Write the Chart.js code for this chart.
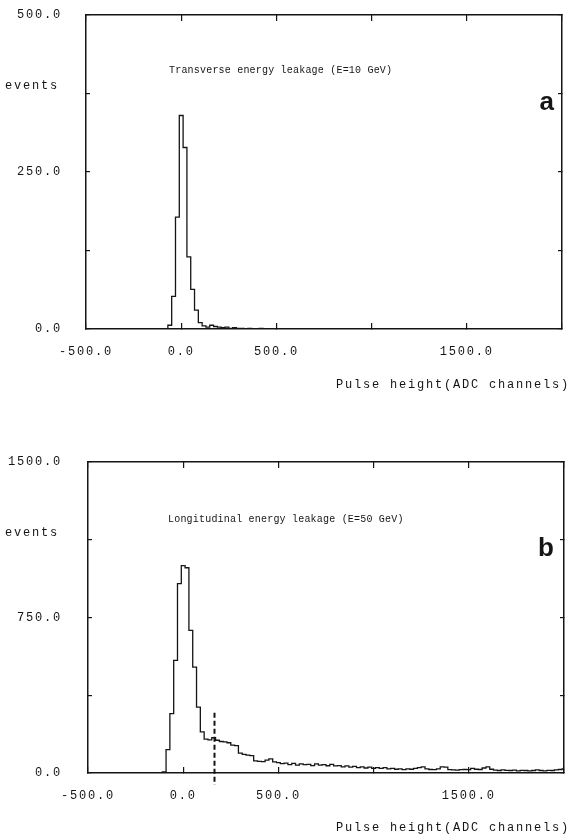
<!DOCTYPE html>
<html lang="en">
<head>
  <meta charset="UTF-8">
  <title>Energy leakage histograms</title>
  <script src="https://cdn.jsdelivr.net/npm/chart.js@4.4.0/dist/chart.umd.min.js"></script>
  <style>
    html, body { margin: 0; padding: 0; background: #fff; }
    body { width: 568px; height: 835px; position: relative; overflow: hidden; }
    .panel { position: absolute; left: 0; }
    #panel-a { top: 0; }
    #panel-b { top: 400px; }
  </style>
</head>
<body>
  <canvas id="panel-a" class="panel" width="568" height="400"></canvas>
  <canvas id="panel-b" class="panel" width="568" height="435"></canvas>

  <script>
    // Histogram binning (ADC channels)
    const binWidth = 20;
    const xMin = -500;
    const xMax = 2000;

    // Panel a: transverse leakage, counts per bin starting at aFirstEdge
    const aFirstEdge = -90;
    const aCounts = [0, 6, 52, 178, 340, 289, 115, 63, 30, 10, 5, 3, 6, 4, 3, 2, 3, 1, 2, 1, 1, 0, 1, 0, 0, 1];

    // Panel b: longitudinal leakage, counts per bin starting at bFirstEdge
    const bFirstEdge = -130;
    const bCounts = [
      0, 5, 113, 286, 543, 913, 1000, 990, 688, 511,
      318, 198, 163, 160, 170, 158, 152, 150, 146, 134,
      132, 96, 90, 86, 84, 58, 56, 55, 62, 68,
      54, 50, 45, 48, 40, 46, 38, 44, 40, 42,
      36, 44, 38, 40, 35, 42, 34, 36, 30, 34,
      28, 32, 26, 30, 24, 28, 22, 26, 22, 26,
      20, 22, 18, 20, 16, 20, 18, 22, 26, 30,
      20, 17, 16, 20, 30, 28, 16, 15, 14, 16,
      17, 16, 22, 18, 17, 24, 30, 18, 14, 12,
      15, 13, 12, 14, 10, 13, 12, 10, 12, 15,
      12, 10, 13, 12, 15, 17, 20
    ];
    // dashed cut line in panel b
    const bCutX = 160;
    const bCutTop = 290;

    // tick values and which ones carry labels
    const xLabelled = [-500, 0, 500, 1500];
    const aYLabelled = [0, 250, 500];
    const bYLabelled = [0, 750, 1500];

    const aTitle = 'Transverse energy leakage (E=10 GeV)';
    const bTitle = 'Longitudinal energy leakage (E=50 GeV)';
    const xTitle = 'Pulse height(ADC channels)';
    const yTitle = 'events';

    const INK = '#151515';
    const MONO = "'Liberation Mono', 'DejaVu Sans Mono', monospace";
    const SPACING = '1.8px';

    function histPoints(firstEdge, counts) {
      const pts = [{ x: xMin, y: 0 }];
      counts.forEach((c, i) => pts.push({ x: firstEdge + i * binWidth, y: c }));
      const end = firstEdge + counts.length * binWidth;
      pts.push({ x: end, y: 0 });
      if (end < xMax) pts.push({ x: xMax, y: 0 });
      return pts;
    }

    // texts + cut line drawn on top of the chart
    const annotPlugin = {
      id: 'annot',
      beforeDraw(chart) {
        chart.ctx.letterSpacing = SPACING;
      },
      afterDraw(chart, args, o) {
        const ctx = chart.ctx;
        ctx.save();
        ctx.fillStyle = INK;
        ctx.textBaseline = 'middle';

        ctx.letterSpacing = '0.2px';
        ctx.font = '10px ' + MONO;
        ctx.textAlign = 'left';
        ctx.fillText(o.title, o.titleX, o.titleY);

        ctx.letterSpacing = SPACING;
        ctx.font = '12px ' + MONO;
        ctx.fillText(yTitle, o.eventsX, o.eventsY);
        ctx.textAlign = 'right';
        ctx.fillText(xTitle, 570, o.axisTitleY);

        ctx.letterSpacing = '0px';
        ctx.font = 'bold 26px "Liberation Sans", Arial, sans-serif';
        ctx.fillText(o.letter, o.letterX, o.letterY);

        if (o.cut) {
          const xs = chart.scales.x, ys = chart.scales.y;
          const px = Math.round(xs.getPixelForValue(o.cut.x)) + 0.5;
          ctx.strokeStyle = INK;
          ctx.lineWidth = 2;
          ctx.setLineDash([5, 3]);
          ctx.beginPath();
          ctx.moveTo(px, ys.getPixelForValue(o.cut.top));
          ctx.lineTo(px, chart.chartArea.bottom + 12);
          ctx.stroke();
        }
        ctx.restore();
        ctx.letterSpacing = '0px';
      }
    };

    // fixed axis box sizes, no extra label padding in the layout
    function fixBox(s, w, h) {
      if (w !== null) s.width = w;
      if (h !== null) s.height = h;
      s.paddingTop = s.paddingBottom = s.paddingLeft = s.paddingRight = 0;
    }

    function makeChart(canvasId, cfg) {
      const grid = (len) => ({ drawOnChartArea: false, drawTicks: true, tickLength: len, color: INK, lineWidth: 1.2 });
      const border = { display: true, color: INK, width: 1.5 };
      const tickFont = { family: MONO, size: 12 };

      return new Chart(document.getElementById(canvasId), {
        type: 'line',
        data: {
          datasets: [{
            data: histPoints(cfg.firstEdge, cfg.counts),
            stepped: true,
            borderColor: INK,
            borderWidth: 1.3,
            pointRadius: 0,
            fill: false
          }]
        },
        options: {
          responsive: false,
          animation: false,
          devicePixelRatio: 1,
          layout: { padding: { top: cfg.top, right: cfg.right, left: 0, bottom: 0 } },
          plugins: {
            legend: { display: false },
            tooltip: { enabled: false },
            annot: cfg.annot
          },
          scales: {
            x: {
              type: 'linear', position: 'bottom', min: xMin, max: xMax,
              grid: grid(-6), border: border,
              ticks: {
                stepSize: 500, padding: 21.8, font: tickFont, color: INK, maxRotation: 0, autoSkip: false,
                callback: v => xLabelled.includes(v) ? v.toFixed(1) : ''
              },
              afterFit: s => fixBox(s, null, cfg.xAxisH)
            },
            x2: {
              type: 'linear', axis: 'x', position: 'top', min: xMin, max: xMax,
              grid: grid(-6), border: border,
              ticks: { stepSize: 500, display: false },
              afterFit: s => fixBox(s, null, 0)
            },
            y: {
              type: 'linear', position: 'left', min: 0, max: cfg.yMax,
              grid: grid(-4), border: border,
              ticks: {
                stepSize: cfg.yStep, padding: cfg.yPad, font: tickFont, color: INK,
                callback: v => cfg.yLabelled.includes(v) ? v.toFixed(1) : ''
              },
              afterFit: s => fixBox(s, cfg.left, null)
            },
            y2: {
              type: 'linear', axis: 'y', position: 'right', min: 0, max: cfg.yMax,
              grid: grid(-4), border: border,
              ticks: { stepSize: cfg.yStep, display: false },
              afterFit: s => fixBox(s, 0, null)
            }
          }
        },
        plugins: [annotPlugin]
      });
    }

    makeChart('panel-a', {
      firstEdge: aFirstEdge, counts: aCounts,
      yMax: 500, yStep: 125, yLabelled: aYLabelled, yPad: 28,
      top: 15, right: 6, left: 86, xAxisH: 71,
      annot: {
        title: aTitle, titleX: 169, titleY: 70,
        eventsX: 5, eventsY: 86,
        letter: 'a', letterX: 554, letterY: 103,
        axisTitleY: 385
      }
    });

    makeChart('panel-b', {
      firstEdge: bFirstEdge, counts: bCounts,
      yMax: 1500, yStep: 375, yLabelled: bYLabelled, yPad: 30,
      top: 62, right: 4, left: 88, xAxisH: 62,
      annot: {
        title: bTitle, titleX: 168, titleY: 119,
        eventsX: 5, eventsY: 133,
        letter: 'b', letterX: 554, letterY: 149,
        axisTitleY: 428,
        cut: { x: bCutX, top: bCutTop }
      }
    });
  </script>
</body>
</html>
